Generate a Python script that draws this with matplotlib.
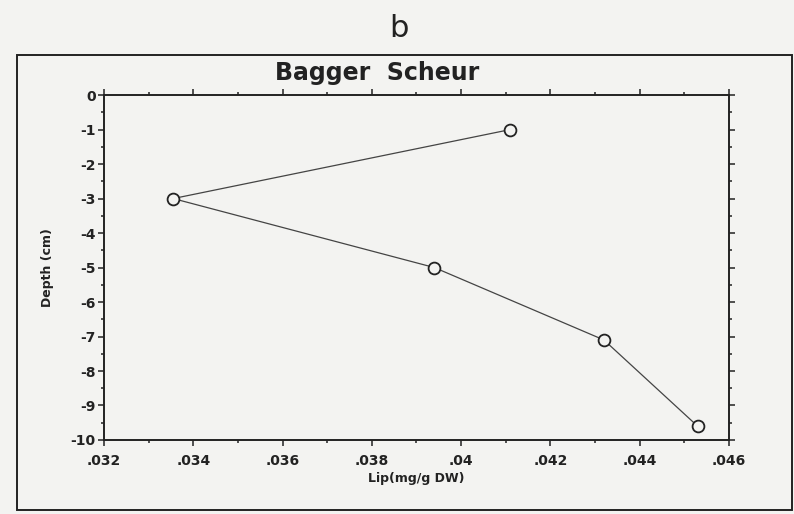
import numpy as np
import matplotlib.pyplot as plt
from matplotlib.ticker import MultipleLocator
from matplotlib.patches import Rectangle

plt.rcParams['axes.unicode_minus'] = False

# lipid content per depth layer
lip = [0.0411, 0.03355, 0.0394, 0.0432, 0.0453]
depth = [-1.0, -3.0, -5.0, -7.1, -9.6]

x_ticks = [0.032, 0.034, 0.036, 0.038, 0.040, 0.042, 0.044, 0.046]
x_labels = ['.032', '.034', '.036', '.038', '.04', '.042', '.044', '.046']
y_ticks = list(range(0, -11, -1))

bg = '#f3f3f1'
ink = '#222222'

fig = plt.figure(figsize=(7.94, 5.14), dpi=100, facecolor=bg)
ax = fig.add_axes([0.131, 0.144, 0.787, 0.671])
ax.set_facecolor(bg)

ax.plot(lip, depth, color='#444444', lw=0.9, marker='o', markersize=8.5,
        markerfacecolor=bg, markeredgecolor=ink, markeredgewidth=1.3)

ax.set_xlim(0.032, 0.046)
ax.set_ylim(-10, 0)
ax.set_xticks(x_ticks)
ax.set_xticklabels(x_labels)
ax.set_yticks(y_ticks)
ax.set_yticklabels([str(v) for v in y_ticks])
ax.xaxis.set_minor_locator(MultipleLocator(0.001))
ax.yaxis.set_minor_locator(MultipleLocator(0.5))

for s in ax.spines.values():
    s.set_linewidth(1.4)
    s.set_color(ink)

ax.tick_params(axis='both', which='both', direction='out', color=ink,
               labelcolor=ink, top=True, right=True, width=1.1)
ax.tick_params(axis='both', which='major', length=4, labelsize=10)
ax.tick_params(axis='x', which='major', pad=6)
ax.tick_params(axis='y', which='major', pad=2)
ax.tick_params(axis='both', which='minor', length=2.5)
for lab in ax.get_xticklabels() + ax.get_yticklabels():
    lab.set_fontweight('bold')

ax.set_xlabel('Lip(mg/g DW)', fontsize=9, fontweight='semibold', color=ink, labelpad=3)
ax.set_ylabel('Depth (cm)', fontsize=9, fontweight='bold', color=ink, labelpad=12)

fig.text(0.475, 0.845, 'Bagger  Scheur', ha='center', va='baseline',
         fontsize=17, fontweight='bold', color=ink)
fig.text(0.503, 0.945, 'b', ha='center', va='center', fontsize=22, color=ink)

# outer frame round the plot
fig.patches.append(Rectangle((0.021, 0.008), 0.976, 0.885, transform=fig.transFigure,
                             fill=False, edgecolor=ink, lw=1.4))

fig.savefig('out.png', dpi=100, facecolor=bg)
